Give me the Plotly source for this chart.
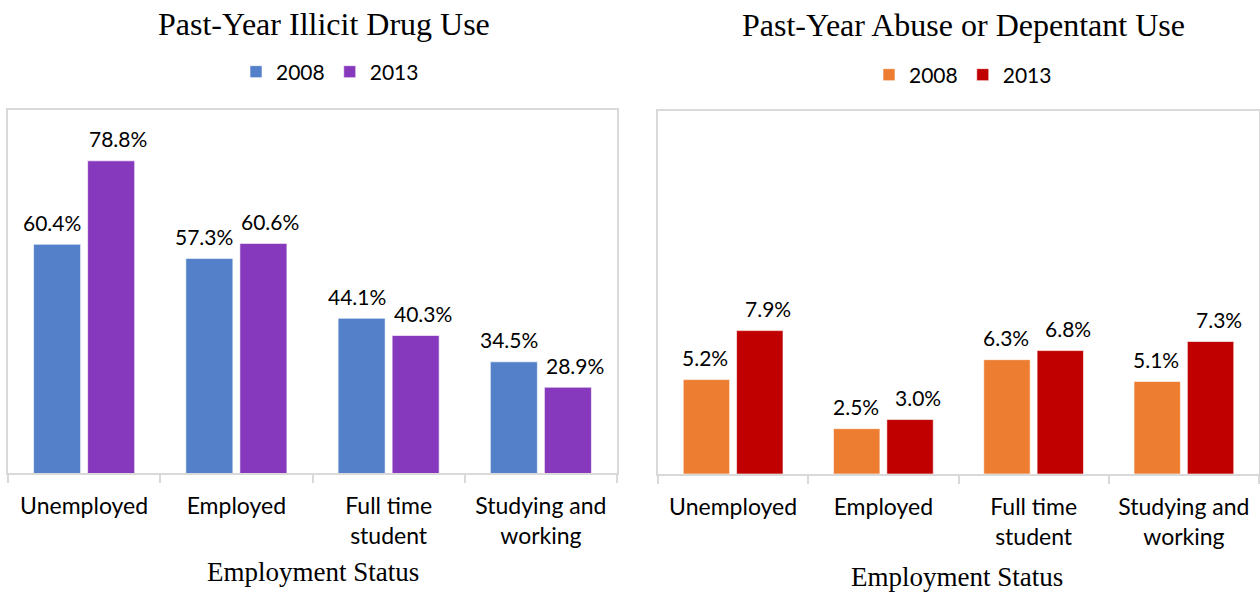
import plotly.graph_objects as go

categories = ["Unemployed", "Employed", "Full time<br>student", "Studying and<br>working"]
illicit_2008 = [60.4, 57.3, 44.1, 34.5]
illicit_2013 = [78.8, 60.6, 40.3, 28.9]
abuse_2008 = [5.2, 2.5, 6.3, 5.1]
abuse_2013 = [7.9, 3.0, 6.8, 7.3]

W, H = 1260, 593
SANS = "Lato, 'Open Sans', sans-serif"
SERIF = "'Liberation Serif', 'Times New Roman', serif"
GRID = "#D9D9D9"
BARGAP, GROUPGAP = 0.29, 0.13

def px_x(v):
    return v / W

def px_y(v):
    return 1 - v / H

fig = go.Figure()

def bar(x, y, name, color, xa, ya, legend):
    return go.Bar(
        x=x, y=y, name=name, xaxis=xa, yaxis=ya, legend=legend,
        marker=dict(color=color, line=dict(color="rgba(255,255,255,0.6)", width=1)),
        cliponaxis=False, hoverinfo="x+y",
    )

fig.add_trace(bar(categories, illicit_2008, "2008", "#5380C9", "x", "y", "legend"))
fig.add_trace(bar(categories, illicit_2013, "2013", "#8739BE", "x", "y", "legend"))
fig.add_trace(bar(categories, abuse_2008, "2008", "#ED7D31", "x2", "y2", "legend2"))
fig.add_trace(bar(categories, abuse_2013, "2013", "#C00000", "x2", "y2", "legend2"))

# value labels, anchored to the bars through the axes
annotations = []
def add_labels(vals, xref, yref, plot_w, side, nudge):
    cat_w = plot_w / 4
    shift = side * (1 - BARGAP) * cat_w / 4 + nudge
    for c, v in zip(categories, vals):
        annotations.append(dict(
            x=c, y=v, xref=xref, yref=yref, text=f"{v:.1f}%", showarrow=False,
            xanchor="center", yanchor="middle", xshift=shift, yshift=22,
            font=dict(family=SANS, size=21, color="#000000"),
        ))

add_labels(illicit_2008, "x", "y", 609, -1, -5)
add_labels(illicit_2013, "x", "y", 609, 1, 7)
add_labels(abuse_2008, "x2", "y2", 601, -1, -1)
add_labels(abuse_2013, "x2", "y2", 601, 1, 8)

xcommon = dict(
    type="category", range=[-0.5, 3.5], showline=True, linecolor=GRID, linewidth=1.5,
    mirror=True, ticks="outside", ticklen=8, tickcolor=GRID, tickwidth=1.5,
    tickson="boundaries", showgrid=False, zeroline=False,
    tickfont=dict(family=SANS, size=23, color="#000000"), ticklabelstandoff=12,
    fixedrange=True,
)
ycommon = dict(
    showline=True, linecolor=GRID, linewidth=1.5, mirror=True, showticklabels=False,
    ticks="", showgrid=False, zeroline=False, fixedrange=True,
)

annotations += [
    dict(text="Past-Year Illicit Drug Use", x=px_x(324), y=px_y(24), xref="paper", yref="paper",
         xanchor="center", yanchor="middle", showarrow=False,
         font=dict(family=SERIF, size=32, color="#000000")),
    dict(text="Past-Year Abuse or Depentant Use", x=px_x(964), y=px_y(25), xref="paper", yref="paper",
         xanchor="center", yanchor="middle", showarrow=False,
         font=dict(family=SERIF, size=32, color="#000000")),
    dict(text="Employment Status", x=px_x(313), y=px_y(572), xref="paper", yref="paper",
         xanchor="center", yanchor="middle", showarrow=False,
         font=dict(family=SERIF, size=27, color="#000000")),
    dict(text="Employment Status", x=px_x(957), y=px_y(577), xref="paper", yref="paper",
         xanchor="center", yanchor="middle", showarrow=False,
         font=dict(family=SERIF, size=27, color="#000000")),
]

fig.update_layout(
    width=W, height=H, margin=dict(l=0, r=0, t=0, b=0),
    paper_bgcolor="white", plot_bgcolor="white",
    barmode="group", bargap=BARGAP, bargroupgap=GROUPGAP,
    xaxis=dict(domain=[px_x(8), px_x(617)], anchor="y", **xcommon),
    yaxis=dict(domain=[px_y(473), px_y(110)], anchor="x", range=[10, 90], **ycommon),
    xaxis2=dict(domain=[px_x(658), px_x(1259)], anchor="y2", **xcommon),
    yaxis2=dict(domain=[px_y(474), px_y(111)], anchor="x2", range=[0, 20], **ycommon),
    legend=dict(orientation="h", x=px_x(330), xanchor="center", y=px_y(72), yanchor="middle",
                font=dict(family=SANS, size=21, color="#000000"), bgcolor="rgba(0,0,0,0)",
                itemclick=False, itemdoubleclick=False),
    legend2=dict(orientation="h", x=px_x(963), xanchor="center", y=px_y(75), yanchor="middle",
                 font=dict(family=SANS, size=21, color="#000000"), bgcolor="rgba(0,0,0,0)",
                 itemclick=False, itemdoubleclick=False),
    showlegend=True,
    annotations=annotations,
)

fig.write_html("out.html")
